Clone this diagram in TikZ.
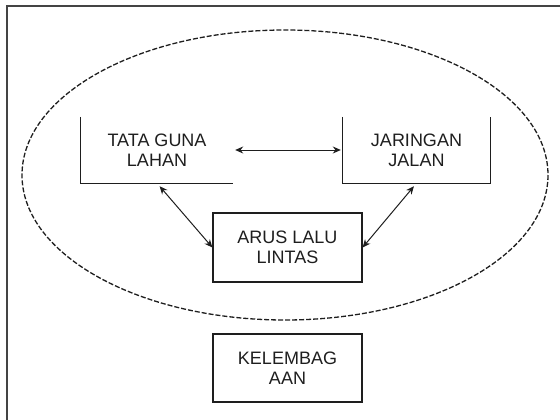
\documentclass[tikz,border=0pt]{standalone}
\usepackage{fontspec}
\setmainfont{Liberation Sans}
\usepackage{xcolor}
\usetikzlibrary{arrows.meta,calc}
\definecolor{ink}{HTML}{1E1E1E}
\definecolor{frame}{HTML}{444444}
\tikzset{
  lbl/.style={text=ink, font=\fontsize{18}{20}\selectfont, align=center, inner sep=0pt},
  blok/.style={lbl, draw=ink, line width=1.2pt},
  arr/.style={line width=1pt, draw=ink, {Stealth[length=8pt,width=7pt]}-{Stealth[length=8pt,width=7pt]}},
  oval/.style={line width=1.3pt, draw=ink, dash pattern=on 5pt off 2pt},
}

\begin{document}
\begin{tikzpicture}[x=1pt,y=-1pt]
  \useasboundingbox (0,0) rectangle (560,420);
  \draw[frame, line width=2pt] (6.5,421) |- (561,6.5);

  \draw[oval] (285,175) ellipse [x radius=263, y radius=145];

  % open boxes
  \node[lbl, minimum width=152pt, minimum height=66pt] (tgl) at (157,150) {TATA GUNA\\LAHAN};
  \node[lbl, minimum width=147pt, minimum height=66pt] (jj) at (416.5,150) {JARINGAN\\JALAN};
  \draw[ink, line width=1.2pt] (tgl.north west) |- (tgl.south east);
  \draw[ink, line width=1.2pt] (jj.north west) -- (jj.south west) -- (jj.south east) -- (jj.north east);

  \node[blok, minimum width=149pt, minimum height=69pt] (alu) at (287.5,247.5) {ARUS LALU\\LINTAS};
  \node[blok, minimum width=149pt, minimum height=68pt] (klb) at (287.5,368) {KELEMBAG\\AAN};

  \draw[arr] ($(tgl.east)+(2,0)$) -- ($(jj.west)+(-2,0)$);
  \draw[arr, shorten <=4pt] (tgl.south) -- (alu.west);
  \draw[arr, shorten <=4pt] (jj.south) -- (alu.east);
\end{tikzpicture}
\end{document}
